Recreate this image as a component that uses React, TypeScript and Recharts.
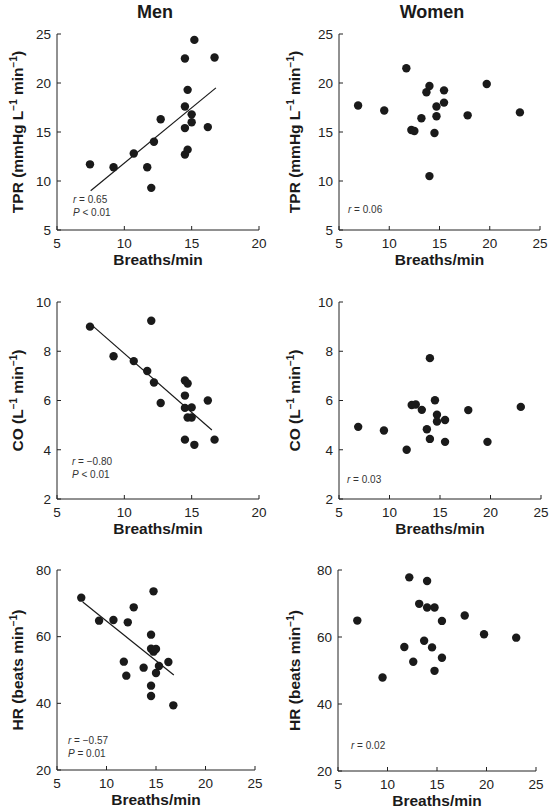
import React from 'react';
import { ScatterChart, Scatter, XAxis, YAxis, ReferenceLine, Label } from 'recharts';

// Men: breathing rate (x) against TPR / CO, HR measured separately
const menTprX = [7.45, 9.2, 10.7, 11.7, 12.0, 12.2, 12.7, 14.5, 14.5, 14.5, 14.5, 14.7, 14.7, 15.0, 15.0, 15.2, 16.2, 16.7];
const menTprY = [11.7, 11.4, 12.8, 11.4, 9.3, 14.0, 16.3, 22.5, 17.6, 15.4, 12.7, 19.3, 13.2, 16.8, 16.0, 24.4, 15.5, 22.6];
const menCoX = [7.45, 9.2, 10.7, 11.7, 12.0, 12.2, 12.7, 14.5, 14.5, 14.5, 14.5, 14.7, 14.7, 15.0, 15.0, 15.2, 16.2, 16.7];
const menCoY = [9.0, 7.8, 7.6, 7.2, 9.24, 6.73, 5.9, 6.81, 6.2, 5.7, 4.41, 6.69, 5.31, 5.72, 5.31, 4.2, 6.0, 4.41];
const menHrX = [7.45, 9.25, 10.7, 11.75, 12.0, 12.15, 12.75, 13.75, 14.5, 14.5, 14.5, 14.5, 14.75, 14.75, 15.0, 15.0, 15.3, 16.25, 16.75];
const menHrY = [71.7, 64.8, 65.0, 52.5, 48.3, 64.3, 68.8, 50.7, 60.6, 45.3, 42.2, 56.4, 73.6, 55.5, 56.3, 49.1, 51.2, 52.4, 39.4];

// Women
const womenTprX = [6.9, 9.5, 11.7, 12.2, 12.5, 13.2, 13.7, 14.0, 14.0, 14.5, 14.7, 14.7, 15.45, 15.45, 17.8, 19.7, 23.0];
const womenTprY = [17.7, 17.2, 21.5, 15.2, 15.1, 16.4, 19.05, 19.7, 10.5, 14.9, 17.6, 16.6, 19.25, 18.0, 16.7, 19.9, 17.0];
const womenCoX = [6.9, 9.45, 11.7, 12.2, 12.6, 13.2, 13.7, 14.0, 14.0, 14.5, 14.7, 14.7, 15.5, 15.5, 17.8, 19.7, 23.0];
const womenCoY = [4.93, 4.78, 4.0, 5.82, 5.84, 5.62, 4.83, 7.72, 4.44, 6.01, 5.42, 5.15, 5.21, 4.32, 5.61, 4.32, 5.74];
const womenHrX = [6.95, 9.5, 11.7, 12.2, 12.6, 13.2, 13.7, 14.0, 14.0, 14.5, 14.75, 14.75, 15.5, 15.5, 17.8, 19.75, 23.0];
const womenHrY = [64.9, 47.9, 57.0, 77.8, 52.6, 69.9, 58.9, 76.7, 68.8, 56.9, 68.8, 49.9, 64.8, 53.8, 66.4, 60.8, 59.8];

// regression lines (end points)
const menTprFit = [{ x: 7.5, y: 9.0 }, { x: 16.8, y: 19.5 }];
const menCoFit = [{ x: 7.5, y: 9.1 }, { x: 16.5, y: 4.8 }];
const menHrFit = [{ x: 7.6, y: 70.4 }, { x: 16.8, y: 48.5 }];

const menXTicks = [5, 10, 15, 20];
const wideXTicks = [5, 10, 15, 20, 25];
const tprTicks = [5, 10, 15, 20, 25];
const coTicks = [2, 4, 6, 8, 10];
const hrTicks = [20, 40, 60, 80];

const FONT = '"Liberation Sans", Arial, Helvetica, sans-serif';
const INK = '#1a1a1a';

type Pt = { x: number; y: number };
const zip = (xs: number[], ys: number[]): Pt[] => xs.map((x, i) => ({ x, y: ys[i] }));

// label pieces: [text, isSuperscript]
type Piece = [string, boolean];
const tprLabel: Piece[] = [['TPR (mmHg L', false], ['\u22121', true], [' min', false], ['\u22121', true], [')', false]];
const coLabel: Piece[] = [['CO (L', false], ['\u22121', true], [' min', false], ['\u22121', true], [')', false]];
const hrLabel: Piece[] = [['HR (beats min', false], ['\u22121', true], [')', false]];

// note lines: [italic symbol, rest]
type Note = [string, string];

interface PanelProps {
  ox: number; oy: number; w: number; h: number;
  plot: [number, number, number, number]; // left, top, right, bottom (page px)
  data: Pt[];
  fit?: Pt[];
  xTicks: number[];
  yTicks: number[];
  yLabel: Piece[];
  notes: Note[];
  noteAt: [number, number]; // offset from plot left / from plot bottom
}

const XH = 30;

function Panel({ ox, oy, w, h, plot, data, fit, xTicks, yTicks, yLabel, notes, noteAt }: PanelProps) {
  const [pl, pt, pr, pb] = plot;
  const margin = { top: pt - oy, right: ox + w - pr, left: 0, bottom: oy + h - pb - XH };
  const cy = pt - oy + (pb - pt) / 2;
  const cx = pl - ox + (pr - pl) / 2;

  const yLab = () => (
    <text
      transform={`translate(23,${cy}) rotate(-90)`}
      textAnchor="middle"
      fontFamily={FONT}
      fontWeight="bold"
      fontSize={15.5}
      fill={INK}
    >
      {yLabel.map(([t, sup], i) =>
        sup ? (
          <tspan key={i} fontSize={10} dy={-6}>{t}</tspan>
        ) : (
          <tspan key={i} dy={i > 0 && yLabel[i - 1][1] ? 6 : 0}>{t}</tspan>
        )
      )}
    </text>
  );

  const xLab = () => (
    <g>
      <text x={cx} y={pb - oy + 35} textAnchor="middle" fontFamily={FONT} fontWeight="bold" fontSize={15.5} fill={INK}>
        Breaths/min
      </text>
      {notes.map(([sym, rest], i) => (
        <text
          key={i}
          x={pl - ox + noteAt[0]}
          y={pb - oy - noteAt[1] + i * 12.5}
          fontFamily={FONT}
          fontSize={10}
          fill="#333"
        >
          <tspan fontStyle="italic">{sym}</tspan>
          <tspan>{rest}</tspan>
        </text>
      ))}
    </g>
  );

  return (
    <div style={{ position: 'absolute', left: ox, top: oy }}>
      <ScatterChart width={w} height={h} margin={margin}>
        <XAxis
          type="number"
          dataKey="x"
          domain={[xTicks[0], xTicks[xTicks.length - 1]]}
          ticks={xTicks}
          allowDataOverflow
          height={XH}
          axisLine={{ stroke: '#222' }}
          tickLine={{ stroke: '#222' }}
          tickSize={-4}
          tickMargin={12}
          tick={{ fontSize: 13.5, fill: '#222', fontFamily: FONT }}
        >
          <Label content={xLab} />
        </XAxis>
        <YAxis
          type="number"
          dataKey="y"
          domain={[yTicks[0], yTicks[yTicks.length - 1]]}
          ticks={yTicks}
          allowDataOverflow
          width={pl - ox}
          axisLine={{ stroke: '#222' }}
          tickLine={{ stroke: '#222' }}
          tickSize={-4}
          tickMargin={10}
          tick={{ fontSize: 13.5, fill: '#222', fontFamily: FONT }}
        >
          <Label content={yLab} />
        </YAxis>
        {fit && (
          <ReferenceLine segment={fit} stroke={INK} strokeWidth={1.2} ifOverflow="visible" />
        )}
        <Scatter
          data={data}
          isAnimationActive={false}
          shape={(p: any) => <circle cx={p.cx} cy={p.cy} r={4.2} fill={INK} />}
        />
      </ScatterChart>
    </div>
  );
}

export default function App() {
  const title: React.CSSProperties = {
    position: 'absolute', top: 2, fontFamily: FONT, fontWeight: 'bold', fontSize: 18,
    color: INK, textAlign: 'center', width: 120,
  };
  return (
    <div style={{ position: 'absolute', left: 0, top: 0, width: 554, height: 811, background: '#fff' }}>
      <div style={{ ...title, left: 155 - 60 }}>Men</div>
      <div style={{ ...title, left: 432 - 60 }}>Women</div>

      <Panel ox={0} oy={0} w={277} h={270} plot={[57, 34, 259, 230]}
        data={zip(menTprX, menTprY)} fit={menTprFit} xTicks={menXTicks} yTicks={tprTicks}
        yLabel={tprLabel} notes={[['r', ' = 0.65'], ['P', ' < 0.01']]} noteAt={[16, 27]} />
      <Panel ox={277} oy={0} w={277} h={270} plot={[339, 34, 540, 230]}
        data={zip(womenTprX, womenTprY)} xTicks={wideXTicks} yTicks={tprTicks}
        yLabel={tprLabel} notes={[['r', ' = 0.06']]} noteAt={[9, 17]} />

      <Panel ox={0} oy={270} w={277} h={270} plot={[57, 302, 259, 499]}
        data={zip(menCoX, menCoY)} fit={menCoFit} xTicks={menXTicks} yTicks={coTicks}
        yLabel={coLabel} notes={[['r', ' = \u22120.80'], ['P', ' < 0.01']]} noteAt={[15, 34]} />
      <Panel ox={277} oy={270} w={277} h={270} plot={[339, 302, 541, 499]}
        data={zip(womenCoX, womenCoY)} xTicks={wideXTicks} yTicks={coTicks}
        yLabel={coLabel} notes={[['r', ' = 0.03']]} noteAt={[8, 16]} />

      <Panel ox={0} oy={540} w={277} h={271} plot={[57, 570, 255, 770]}
        data={zip(menHrX, menHrY)} fit={menHrFit} xTicks={wideXTicks} yTicks={hrTicks}
        yLabel={hrLabel} notes={[['r', ' = \u22120.57'], ['P', ' = 0.01']]} noteAt={[11, 26]} />
      <Panel ox={277} oy={540} w={277} h={271} plot={[338, 570, 536, 771]}
        data={zip(womenHrX, womenHrY)} xTicks={wideXTicks} yTicks={hrTicks}
        yLabel={hrLabel} notes={[['r', ' = 0.02']]} noteAt={[13, 22]} />
    </div>
  );
}
